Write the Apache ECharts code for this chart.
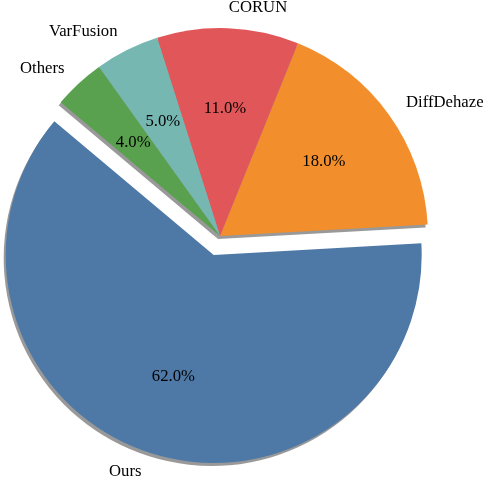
<!DOCTYPE html>
<html>
<head>
<meta charset="utf-8">
<script src="https://cdn.jsdelivr.net/npm/echarts@6/dist/echarts.min.js"></script>
<style>
html,body{margin:0;padding:0;background:#fff;}
#chart{width:488px;height:478px;}
</style>
</head>
<body>
<div id="chart"></div>
<script>
const categories = ['Ours', 'DiffDehaze', 'CORUN', 'VarFusion', 'Others'];
const values = [62, 18, 11, 5, 4];
const colors = ['#4e79a7', '#f28e2b', '#e15759', '#76b7b2', '#59a14f'];
const exploded = ['Ours'];

const R = 208;
const CENTER = [220, 236];
const FONT = '"Liberation Serif", serif';
const FS = 16.7;

const chart = echarts.init(document.getElementById('chart'), null, {renderer: 'canvas'});

const mainData = categories.map((c, i) => ({
  name: c, value: values[i], selected: exploded.includes(c),
  itemStyle: {color: colors[i]}
}));
const pctData = categories.map((c, i) => ({
  name: c, value: values[i], selected: exploded.includes(c)
}));

chart.setOption({
  animation: false,
  backgroundColor: '#ffffff',
  series: [
    {
      type: 'pie',
      center: CENTER,
      radius: R,
      startAngle: 140,
      clockwise: false,
      selectedMode: 'multiple',
      selectedOffset: 20,
      avoidLabelOverlap: false,
      silent: true,
      itemStyle: {
        shadowColor: 'rgba(0,0,0,0.4)',
        shadowBlur: 0,
        shadowOffsetX: -2,
        shadowOffsetY: 3
      },
      label: {
        show: true,
        position: 'outside',
        formatter: '{b}',
        color: '#000',
        fontFamily: FONT,
        fontSize: FS,
        distanceToLabelLine: 0
      },
      labelLine: {show: false, length: R * 0.1, length2: 0},
      emphasis: {disabled: true},
      data: mainData
    },
    {
      type: 'pie',
      center: CENTER,
      radius: [R * 0.2, R],
      startAngle: 140,
      clockwise: false,
      selectedMode: 'multiple',
      selectedOffset: 20,
      silent: true,
      itemStyle: {color: 'rgba(0,0,0,0)'},
      label: {
        show: true,
        position: 'inside',
        formatter: p => p.percent.toFixed(1) + '%',
        color: '#000',
        fontFamily: FONT,
        fontSize: FS
      },
      labelLine: {show: false},
      emphasis: {disabled: true},
      data: pctData
    }
  ]
});
</script>
</body>
</html>
